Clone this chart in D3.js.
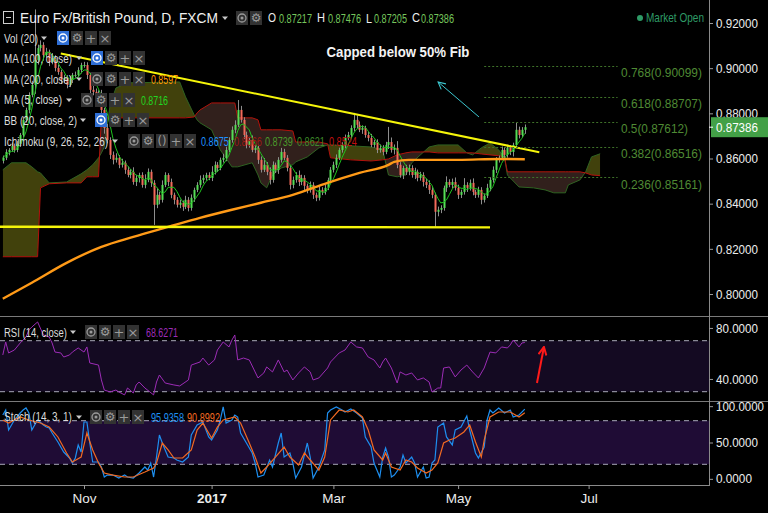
<!DOCTYPE html>
<html><head><meta charset="utf-8">
<script src="https://cdn.jsdelivr.net/npm/d3@7/dist/d3.min.js"></script>
<style>html,body{margin:0;padding:0;background:#000;overflow:hidden}svg{display:block}</style>
</head><body>
<svg id="chart" width="768" height="513"></svg>
<script>
// ---------------- DATA ----------------
const openFirst = 0.8590;
const closes = [0.8603,0.8629,0.8638,0.8656,0.8638,0.8665,0.8704,0.8771,0.8815,0.8881,
 0.8926,0.9036,0.9089,0.9103,0.9058,0.9072,0.9027,0.9045,0.9001,0.8983,
 0.8948,0.8957,0.8926,0.8948,0.8970,0.8970,0.8992,0.9014,0.9014,0.8970,
 0.8904,0.8895,0.8881,0.8890,0.8815,0.8735,0.8682,0.8616,0.8594,0.8603,
 0.8572,0.8581,0.8550,0.8527,0.8541,0.8496,0.8514,0.8527,0.8483,0.8505,
 0.8541,0.8492,0.8395,0.8439,0.8417,0.8483,0.8527,0.8496,0.8439,0.8417,
 0.8395,0.8404,0.8386,0.8417,0.8381,0.8426,0.8461,0.8483,0.8505,0.8514,
 0.8527,0.8514,0.8541,0.8572,0.8558,0.8594,0.8603,0.8638,0.8682,0.8727,
 0.8749,0.8815,0.8771,0.8704,0.8660,0.8682,0.8638,0.8647,0.8594,0.8550,
 0.8572,0.8541,0.8505,0.8572,0.8550,0.8594,0.8629,0.8603,0.8558,0.8483,
 0.8505,0.8527,0.8496,0.8514,0.8479,0.8461,0.8483,0.8439,0.8426,0.8461,
 0.8452,0.8470,0.8505,0.8550,0.8572,0.8603,0.8638,0.8660,0.8691,0.8704,
 0.8735,0.8771,0.8749,0.8727,0.8735,0.8704,0.8691,0.8660,0.8673,0.8638,
 0.8647,0.8629,0.8660,0.8673,0.8638,0.8647,0.8572,0.8527,0.8558,0.8541,
 0.8558,0.8527,0.8541,0.8514,0.8527,0.8496,0.8483,0.8461,0.8439,0.8364,
 0.8373,0.8381,0.8470,0.8496,0.8483,0.8496,0.8470,0.8439,0.8452,0.8483,
 0.8470,0.8492,0.8452,0.8439,0.8461,0.8417,0.8435,0.8470,0.8505,0.8550,
 0.8594,0.8603,0.8638,0.8616,0.8647,0.8629,0.8660,0.8727,0.8704,0.8727,
 0.87386];
const upWick = [10,12,8,15,10,12,9,14,10,12,
 18,224,15,20,12,18,10,22,12,15,
 10,14,12,18,9,15,12,10,14,12,
 10,20,15,12,14,10,18,12,15,20,
 12,18,10,15,12,20,14,10,12,25,
 15,10,12,30,14,20,12,8,15,10,
 12,14,10,18,12,15,10,12,20,14,
 10,12,25,15,12,10,18,14,12,15,
 20,44,18,12,15,14,20,12,10,15,
 30,12,20,15,10,12,18,14,12,10,
 15,12,20,14,12,10,15,12,10,18,
 12,15,10,12,14,15,10,12,15,14,
 12,31,20,15,12,10,14,18,10,12,
 15,12,14,67,20,15,30,12,10,14,
 15,12,18,10,14,12,15,20,12,10,
 14,12,10,25,12,15,20,14,10,30,
 12,15,20,10,14,12,10,18,12,15,
 12,10,15,12,14,12,10,31,14,12,
 12];
const dnWick = [12,10,15,8,12,10,14,10,12,15,
 10,40,20,15,25,12,18,10,15,12,
 18,12,15,10,14,12,10,15,12,18,
 20,15,12,18,20,25,15,18,20,12,
 15,12,18,10,15,12,18,20,12,15,
 10,18,89,15,20,12,10,18,15,20,
 12,15,18,10,15,12,18,10,12,15,
 12,10,14,12,18,10,12,15,10,12,
 15,10,12,18,15,12,10,14,18,12,
 10,15,20,12,14,18,12,10,15,20,
 15,12,18,14,20,15,12,18,15,12,
 14,12,10,15,12,14,10,12,15,10,
 12,15,14,10,18,12,15,10,12,14,
 12,15,10,18,12,20,15,12,18,14,
 15,12,18,15,12,20,14,18,15,67,
 20,15,12,18,10,15,12,18,14,12,
 18,12,15,14,12,20,12,10,15,12,
 14,12,10,15,12,14,20,12,15,10,
 18];

const ma200Idx = [0,10,22,34,45,57,68,79,89,100,112,123,133,135,140,157,171,180];
const ma200Val = [0.7979,0.8050,0.8138,0.8209,0.8253,0.8297,0.8337,0.8373,0.8404,0.8439,0.8492,0.8536,0.8572,0.8585,0.8594,0.8594,0.8598,0.8597];

const cloudIdx = [0,3,8,10,12,13,16,22,27,29,31,33,34,35,37,39,43,61,63,66,67,68,72,75,79,80,81,86,88,89,91,93,96,100,101,105,109,112,113,120,127,131,133,136,139,141,144,147,150,157,160,162,165,168,171,173,174,178,183,187,190,194,195,199,201,203,206];
const spanA = [0.8550,0.8581,0.8581,0.8563,0.8541,0.8536,0.8492,0.8496,0.8532,0.8550,0.8572,0.8603,0.8625,0.8651,0.8837,0.8912,0.8935,0.8939,0.8873,0.8793,0.8771,0.8758,0.8727,0.8638,0.8563,0.8563,0.8563,0.8581,0.8527,0.8492,0.8470,0.8527,0.8558,0.8572,0.8585,0.8607,0.8647,0.8660,0.8660,0.8656,0.8651,0.8638,0.8527,0.8519,0.8527,0.8581,0.8616,0.8651,0.8660,0.8660,0.8625,0.8616,0.8647,0.8669,0.8638,0.8603,0.8527,0.8474,0.8470,0.8461,0.8448,0.8448,0.8483,0.8505,0.8541,0.8607,0.8621];
const spanB = [0.8165,0.8165,0.8165,0.8165,0.8165,0.8470,0.8488,0.8492,0.8492,0.8519,0.8519,0.8519,0.8780,0.8780,0.8780,0.8780,0.8780,0.8780,0.8780,0.8784,0.8802,0.8815,0.8846,0.8846,0.8846,0.8846,0.8780,0.8780,0.8771,0.8727,0.8727,0.8727,0.8727,0.8722,0.8673,0.8673,0.8673,0.8665,0.8603,0.8594,0.8589,0.8594,0.8598,0.8616,0.8625,0.8629,0.8629,0.8629,0.8625,0.8625,0.8625,0.8625,0.8620,0.8616,0.8612,0.8607,0.8541,0.8541,0.8541,0.8541,0.8541,0.8541,0.8541,0.8541,0.8536,0.8527,0.8524];

const rsiIdx = [0,1,2,4,6,8,9,10,12,14,16,17,18,20,21,23,24,26,28,29,30,33,34,35,37,39,40,42,43,45,46,47,49,52,53,54,56,59,61,64,65,68,69,71,73,74,76,78,79,80,81,83,85,87,88,90,91,93,95,97,98,100,102,104,106,107,109,112,113,116,118,120,122,124,126,128,130,131,132,134,136,137,139,141,143,145,147,148,150,151,152,154,156,158,160,162,164,166,167,168,170,172,174,175,176,178,179,180];
const rsiVal = [58.8,69.0,60.4,62.7,68.2,72.9,78.4,80.7,84.7,74.5,72.9,68.2,61.1,60.4,57.2,58.8,61.1,64.3,61.1,65.1,52.5,50.9,39.2,31.3,29.8,31.3,29.8,27.5,32.9,29.0,35.3,37.6,32.9,27.5,37.6,43.1,36.8,35.3,34.5,39.2,50.9,53.3,56.4,50.9,54.9,62.7,69.0,65.1,70.5,74.5,54.9,56.4,54.9,45.5,40.8,44.7,49.4,45.5,54.9,45.5,47.0,39.2,44.7,49.4,45.5,39.2,40.8,48.6,53.3,60.4,62.7,69.0,65.1,64.3,57.2,54.9,48.6,53.3,56.4,48.6,36.8,45.5,43.1,44.7,39.2,40.8,37.6,29.8,32.9,32.9,48.6,49.4,41.6,47.0,50.9,45.5,40.8,48.6,54.9,61.1,60.4,65.1,64.3,66.7,70.5,65.1,68.2,68.6];

const kIdx = [0,1,2,4,6,7,8,9,10,12,14,15,16,17,19,21,23,24,25,26,27,28,29,30,31,33,34,35,36,38,40,42,43,45,47,49,50,51,52,53,54,55,57,59,60,62,64,65,67,69,71,72,74,75,76,77,79,80,81,82,84,86,87,88,90,92,93,95,96,97,99,100,101,103,105,106,107,109,111,112,113,115,117,118,120,122,124,125,127,128,130,131,132,133,134,135,137,138,139,141,142,143,145,146,147,148,149,150,152,153,155,156,158,160,161,163,164,166,167,168,169,171,173,175,176,178,180];
const kVal = [87.8,94.7,67.2,81.0,90.6,94.7,97.5,90.6,67.2,81.0,74.1,71.3,70.0,63.1,50.7,36.9,28.7,21.8,28.7,46.6,36.9,78.2,78.2,49.3,23.2,23.2,16.3,2.5,5.2,5.2,1.1,5.2,2.5,1.1,8.0,16.3,12.1,21.8,2.5,30.0,60.3,49.3,30.0,28.7,25.9,23.2,30.0,60.3,74.1,78.2,57.6,53.4,67.2,81.0,98.9,76.8,81.0,87.8,85.1,63.1,49.3,35.6,21.8,2.5,5.2,25.9,16.3,49.3,63.1,30.0,35.6,21.8,1.1,16.3,49.3,30.0,1.1,16.3,39.7,90.6,94.7,98.9,94.7,92.0,96.1,90.6,83.7,57.6,43.8,21.8,2.5,30.0,42.4,30.0,2.5,5.2,16.3,32.8,21.8,30.0,21.8,2.5,16.3,1.1,2.5,21.8,25.9,71.3,76.8,57.6,46.6,67.2,71.3,86.5,67.2,35.6,28.7,43.8,81.0,94.7,90.6,97.5,90.6,94.7,85.1,87.8,95.9];
const dIdx = [0,2,6,9,13,16,19,22,24,27,29,31,33,35,38,42,45,49,52,53,55,57,59,62,65,67,69,72,74,76,80,82,85,87,89,91,94,97,99,102,104,106,109,111,113,116,119,121,124,126,128,131,132,134,137,139,141,143,146,148,150,152,154,156,159,161,163,165,166,168,171,173,175,178,180];
const dVal = [81.0,76.8,85.1,81.0,76.8,71.3,57.6,35.6,23.2,30.0,63.1,39.7,21.8,8.0,5.2,2.5,2.5,9.4,14.9,21.8,49.3,39.7,28.7,28.7,39.7,67.2,76.8,56.2,71.3,81.0,85.1,76.8,49.3,30.0,8.0,16.3,30.0,43.8,30.0,19.0,35.6,25.9,12.1,30.0,81.0,94.7,92.0,94.7,85.1,67.2,39.7,25.9,35.6,16.3,12.1,25.9,23.2,14.9,8.0,12.1,21.8,49.3,53.4,56.2,64.5,74.1,50.7,30.0,53.4,85.1,92.0,92.0,92.0,85.1,90.9];

const priceTicks = [0.80,0.82,0.84,0.86,0.88,0.90,0.92];
const rsiTicks = [40,80];
const stochTicks = [0,50,100];
const timeTickIdx = [28,72,114,157,202];
const timeTickLabels = ["Nov","2017","Mar","May","Jul"];

const fibRatios = ["0.768","0.618","0.5","0.382","0.236"];
const fibPrices = [0.90099,0.88707,0.87612,0.86516,0.85161];
const fibIdx = [166,212];
const trendIdx = [20,185];
const trendVal = [0.9065,0.8628];
const supportIdx = [-1,168];
const supportVal = [0.8298,0.8295];
const noteArrowIdx = [164.2,150.1];
const noteArrowVal = [0.8784,0.8939];
const rsiArrowIdx = [184.2,186.6];
const rsiArrowVal = [36.8,65.1];
const lastPrice = 0.87386;

// ---------------- SETUP ----------------
const FONT = '"Liberation Sans", Arial, sans-serif';
const svg = d3.select("#chart");
svg.append("rect").attr("width",768).attr("height",513).attr("fill","#000");
const W = 709, MAIN_B = 316;
const x  = d3.scaleLinear().domain([0,180]).range([2.8,524.8]);
const y  = d3.scaleLinear().domain([0.80,0.92]).range([294,23]);
const yR = d3.scaleLinear().domain([30,70]).range([391.7,340.7]);
const yS = d3.scaleLinear().domain([20,80]).range([464.3,420.7]);

const defs = svg.append("defs");
defs.append("clipPath").attr("id","clipMain").append("rect").attr("x",0).attr("y",0).attr("width",W).attr("height",MAIN_B);
defs.append("clipPath").attr("id","clipRsi").append("rect").attr("x",0).attr("y",317).attr("width",W).attr("height",83);
defs.append("clipPath").attr("id","clipSto").append("rect").attr("x",0).attr("y",402).attr("width",W).attr("height",83);
const mk = defs.append("marker").attr("id","headC").attr("viewBox","0 0 10 10").attr("refX",9).attr("refY",5)
  .attr("markerWidth",9).attr("markerHeight",9).attr("orient","auto").attr("markerUnits","userSpaceOnUse");
mk.append("path").attr("d","M1,1 L9,5 L1,9").attr("fill","none").attr("stroke","#3cc6cf").attr("stroke-width",1.2);
const mk2 = defs.append("marker").attr("id","headR").attr("viewBox","0 0 10 10").attr("refX",9).attr("refY",5)
  .attr("markerWidth",10).attr("markerHeight",10).attr("orient","auto").attr("markerUnits","userSpaceOnUse");
mk2.append("path").attr("d","M1,1 L9,5 L1,9").attr("fill","none").attr("stroke","#ff1a1a").attr("stroke-width",2);

// text helper: natural glyphs, squeezed horizontally with a transform to the width seen in the reference
function T(x0,y0,s,o={}){
  const t = svg.append("text").attr("x",0).attr("y",0).text(s)
    .attr("font-family",o.f||FONT).attr("font-size",o.size||12.5).attr("fill",o.c||"#dcdcdc")
    .attr("font-weight",o.w||"normal").attr("dominant-baseline","central");
  if(o.anchor) t.attr("text-anchor",o.anchor);
  let sx = 1;
  if(o.len){ const w = t.node().getComputedTextLength(); if(w>0) sx = o.len/w; }
  t.attr("transform",`translate(${x0},${y0}) scale(${sx},1)`);
  return t;
}

// ---------------- MAIN PANEL ----------------
const main = svg.append("g").attr("clip-path","url(#clipMain)");

// Ichimoku cloud
const cloud = cloudIdx.map((d,i)=>({i:d,a:spanA[i],b:spanB[i]}));
const areaAB = d3.area().x(d=>x(d.i)).y0(d=>y(d.b)).y1(d=>y(d.a));
defs.append("clipPath").attr("id","cAbove").append("path").attr("d",d3.area().x(d=>x(d.i)).y0(0).y1(d=>y(d.b))(cloud));
defs.append("clipPath").attr("id","cBelow").append("path").attr("d",d3.area().x(d=>x(d.i)).y0(d=>y(d.b)).y1(MAIN_B)(cloud));
main.append("g").attr("clip-path","url(#cAbove)").append("path").attr("d",areaAB(cloud)).attr("fill","#41410c");
main.append("g").attr("clip-path","url(#cBelow)").append("path").attr("d",areaAB(cloud)).attr("fill","#31201c");
main.append("path").attr("d",d3.line().x(d=>x(d.i)).y(d=>y(d.a))(cloud)).attr("fill","none").attr("stroke","#2f6322").attr("stroke-width",1);
main.append("path").attr("d",d3.line().x(d=>x(d.i)).y(d=>y(d.b))(cloud)).attr("fill","none").attr("stroke","#b3120c").attr("stroke-width",1);

// candles
const bars = closes.map((c,i)=>{
  const o = i ? closes[i-1] : openFirst;
  return {i,o,c,h:Math.max(o,c)+upWick[i]/1e4,l:Math.min(o,c)-dnWick[i]/1e4};
});
const cg = main.append("g");
cg.selectAll("line.w").data(bars).join("line").attr("class","w")
  .attr("x1",d=>Math.round(x(d.i))+0.5).attr("x2",d=>Math.round(x(d.i))+0.5)
  .attr("y1",d=>y(d.h)).attr("y2",d=>y(d.l)).attr("stroke","#8d8d8d").attr("stroke-width",1);
cg.selectAll("rect.b").data(bars).join("rect").attr("class","b")
  .attr("x",d=>Math.round(x(d.i))-0.5).attr("width",2)
  .attr("y",d=>y(Math.max(d.o,d.c))).attr("height",d=>Math.max(1,Math.abs(y(d.o)-y(d.c))))
  .attr("fill",d=>d.c>=d.o?"#55de55":"#f26a5a");

// MA5 (5-bar average of the closes above)
const ma5 = closes.map((c,i)=>({i,v:d3.mean(closes.slice(Math.max(0,i-4),i+1))}));
main.append("path").attr("d",d3.line().x(d=>x(d.i)).y(d=>y(d.v))(ma5)).attr("fill","none").attr("stroke","#1ec41e").attr("stroke-width",1);

// MA200
const ma200 = ma200Idx.map((d,i)=>({i:d,v:ma200Val[i]}));
main.append("path").attr("d",d3.line().curve(d3.curveMonotoneX).x(d=>x(d.i)).y(d=>y(d.v))(ma200))
  .attr("fill","none").attr("stroke","#ff9a17").attr("stroke-width",2.4);

// trend lines
const tl = d3.line().x(d=>x(d[0])).y(d=>y(d[1]));
main.append("path").attr("d",tl(trendIdx.map((d,i)=>[d,trendVal[i]]))).attr("stroke","#f5f50a").attr("stroke-width",2).attr("fill","none");
main.append("path").attr("d",tl(supportIdx.map((d,i)=>[d,supportVal[i]]))).attr("stroke","#f5f50a").attr("stroke-width",2.4).attr("fill","none");

// fib levels
fibPrices.forEach((p,k)=>{
  main.append("line").attr("x1",x(fibIdx[0])).attr("x2",x(fibIdx[1])).attr("y1",Math.round(y(p))+0.5).attr("y2",Math.round(y(p))+0.5)
    .attr("stroke","#3f7229").attr("stroke-width",1).attr("stroke-dasharray","2,2");
  T(621,y(p)+7,`${fibRatios[k]}(${p.toFixed(5)})`,{size:12.5,c:"#4f8a34",len:fibRatios[k]==="0.5"?67:81});
});

// annotation
main.append("line").attr("x1",x(noteArrowIdx[0])).attr("y1",y(noteArrowVal[0])).attr("x2",x(noteArrowIdx[1])).attr("y2",y(noteArrowVal[1]))
  .attr("stroke","#3cc6cf").attr("stroke-width",1).attr("marker-end","url(#headC)");
T(398,52,"Capped below 50% Fib",{size:15.5,w:"bold",c:"#f4f4f4",anchor:"middle",len:143});

// ---------------- RSI PANEL ----------------
const rg = svg.append("g").attr("clip-path","url(#clipRsi)");
rg.append("rect").attr("x",0).attr("width",W).attr("y",yR(70)).attr("height",yR(30)-yR(70)).attr("fill","#140a22");
[70,30].forEach(v=>rg.append("line").attr("x1",0).attr("x2",W).attr("y1",yR(v)).attr("y2",yR(v)).attr("stroke","#a8a8b8").attr("stroke-dasharray","5,4"));
const rsi = rsiIdx.map((d,i)=>({i:d,v:rsiVal[i]}));
rg.append("path").attr("d",d3.line().x(d=>x(d.i)).y(d=>yR(d.v))(rsi)).attr("fill","none").attr("stroke","#9c2cb6").attr("stroke-width",1);
svg.append("line").attr("x1",x(rsiArrowIdx[0])).attr("y1",yR(rsiArrowVal[0])).attr("x2",x(rsiArrowIdx[1])).attr("y2",yR(rsiArrowVal[1]))
  .attr("stroke","#ff1a1a").attr("stroke-width",2).attr("marker-end","url(#headR)");

// ---------------- STOCH PANEL ----------------
const sg = svg.append("g").attr("clip-path","url(#clipSto)");
sg.append("rect").attr("x",0).attr("width",W).attr("y",yS(80)).attr("height",yS(20)-yS(80)).attr("fill","#1f0c35");
[80,20].forEach(v=>sg.append("line").attr("x1",0).attr("x2",W).attr("y1",yS(v)).attr("y2",yS(v)).attr("stroke","#a8a8b8").attr("stroke-dasharray","5,4"));
const kd = dIdx.map((d,i)=>({i:d,v:dVal[i]}));
const kk = kIdx.map((d,i)=>({i:d,v:kVal[i]}));
sg.append("path").attr("d",d3.line().x(d=>x(d.i)).y(d=>yS(d.v))(kk)).attr("fill","none").attr("stroke","#1e8ff0").attr("stroke-width",1.2);
sg.append("path").attr("d",d3.line().x(d=>x(d.i)).y(d=>yS(d.v))(kd)).attr("fill","none").attr("stroke","#f26a22").attr("stroke-width",1.2);

// ---------------- FRAME & AXES ----------------
svg.append("line").attr("x1",0).attr("x2",768).attr("y1",316.5).attr("y2",316.5).attr("stroke","#7a7a7a");
svg.append("line").attr("x1",0).attr("x2",768).attr("y1",401.5).attr("y2",401.5).attr("stroke","#7a7a7a");
svg.append("line").attr("x1",0).attr("x2",W).attr("y1",485.5).attr("y2",485.5).attr("stroke","#8a8a8a");
svg.append("line").attr("x1",W+0.5).attr("x2",W+0.5).attr("y1",0).attr("y2",486).attr("stroke","#8a8a8a");

function styleAxis(g,lens){
  g.select(".domain").remove();
  g.selectAll(".tick line").attr("stroke","#9a9a9a");
  g.selectAll(".tick text").attr("fill","#ececec").attr("font-family",FONT).attr("font-size",13)
    .each(function(){
      const t = d3.select(this);
      const x0 = +t.attr("x");
      const w = this.getComputedTextLength();
      const sx = w>0 ? lens(this.textContent)/w : 1;
      t.attr("x",0).attr("transform",`translate(${x0},0) scale(${sx},1)`);
    });
}
const lenFor = s => s.length===6?36:(s.length===7?42:48);
styleAxis(svg.append("g").attr("transform",`translate(${W},0)`)
  .call(d3.axisRight(y).tickValues(priceTicks).tickFormat(d3.format(".5f")).tickSize(4).tickPadding(3)), lenFor);
styleAxis(svg.append("g").attr("transform",`translate(${W},0)`)
  .call(d3.axisRight(yR).tickValues(rsiTicks).tickFormat(d3.format(".4f")).tickSize(4).tickPadding(3)), lenFor);
styleAxis(svg.append("g").attr("transform",`translate(${W},0)`)
  .call(d3.axisRight(yS).tickValues(stochTicks).tickFormat(d3.format(".4f")).tickSize(4).tickPadding(3)), lenFor);

const gx = svg.append("g").attr("transform","translate(0,485)")
  .call(d3.axisBottom(x).tickValues(timeTickIdx).tickFormat((d,i)=>timeTickLabels[i]).tickSize(4).tickPadding(4));
gx.select(".domain").remove();
gx.selectAll(".tick line").attr("stroke","#9a9a9a");
gx.selectAll(".tick text").attr("fill","#ececec").attr("font-family",FONT).attr("font-size",13.5)
  .attr("font-weight",(d,i)=>timeTickLabels[i]==="2017"?"bold":"normal");

// current price tag
svg.append("rect").attr("x",W+2).attr("y",y(lastPrice)-10).attr("width",768-W-2).attr("height",20).attr("fill","#43a047");
svg.append("line").attr("x1",W).attr("x2",W+4).attr("y1",y(lastPrice)).attr("y2",y(lastPrice)).attr("stroke","#fff");
T(716,y(lastPrice)+1,lastPrice.toFixed(5),{size:13,c:"#fff",len:42});

// ---------------- LEGEND ----------------
function icon(x0,yc,kind,blue){
  svg.append("rect").attr("x",x0).attr("y",yc-7).attr("width",12).attr("height",14).attr("fill",blue?"#2f6fd6":"#323232");
  const c = blue?"#ffffff":"#9a9a9a";
  if(kind==="eye"){
    svg.append("circle").attr("cx",x0+6).attr("cy",yc).attr("r",4).attr("fill","none").attr("stroke",c).attr("stroke-width",1.3);
    svg.append("circle").attr("cx",x0+6).attr("cy",yc).attr("r",1.5).attr("fill",c);
  } else {
    const sym = {gear:"⚙",plus:"+",x:"×",par:"()"}[kind];
    T(x0+6,yc,sym,{anchor:"middle",c:c,size:kind==="gear"?12:13,f:'"DejaVu Sans", sans-serif',len:kind==="par"?9:null});
  }
}
function caret(x0,yc){ svg.append("path").attr("d",`M${x0-3},${yc-1.5} L${x0+3},${yc-1.5} L${x0},${yc+2}`).attr("fill","#c8c8c8"); }
function row(yc,label,len,cx,ix,kinds,firstBlue){
  T(4,yc,label,{len:len,size:13});
  caret(cx,yc);
  kinds.forEach((k,j)=>icon(ix+j*14,yc,k,firstBlue&&j===0));
}

// title row
svg.append("rect").attr("x",3.5).attr("y",11.5).attr("width",10).attr("height",12).attr("fill","none").attr("stroke","#cfcfcf");
svg.append("line").attr("x1",6).attr("x2",11).attr("y1",17.5).attr("y2",17.5).attr("stroke","#cfcfcf");
T(20,18,"Euro Fx/British Pound, D, FXCM",{size:14.5,c:"#f0f0f0",len:198});
caret(225,18);
icon(236,18,"eye",false); icon(250,18,"gear",false);
const ohlc = [["O",268,"0.87217",279],["H",317,"0.87476",328],["L",366,"0.87205",374],["C",412,"0.87386",421]];
ohlc.forEach(r=>{ T(r[1],18,r[0],{size:12.5,c:"#f0f0f0",len:r[0]==="L"?6:8}); T(r[3],18,r[2],{size:13,c:"#76c65c",len:33}); });
svg.append("circle").attr("cx",640).attr("cy",18).attr("r",3).attr("fill","#2e9a66");
T(646,18,"Market Open",{size:12.5,c:"#2e9a66",len:58});

row(38,"Vol (20)",34,44,57,["eye","gear","plus","x"],true);
row(58,"MA (100, close)",68,79,91,["eye","gear","plus","x"],true);
row(79,"MA (200, close)",68,79,91,["eye","gear","plus","x"],false);
T(151,79,"0.8597",{c:"#ff9800",len:27});
row(100,"MA (5, close)",58,69,81,["eye","gear","plus","x"],false);
T(141,100,"0.8716",{c:"#22d622",len:27});
row(120,"BB (20, close, 2)",73,83,95,["eye","gear","plus","x"],true);
row(141,"Ichimoku (9, 26, 52, 26)",104,115,128,["eye","gear","par","plus","x"],false);
[["0.8675",201,"#1e90ff"],["0.8566",234,"#9a1a14"],["0.8739",265,"#4a9a2a"],["0.8621",297,"#3e8a2a"],["0.8524",329,"#c01010"]]
  .forEach(v=>T(v[1],141,v[0],{c:v[2],len:28}));
row(332,"RSI (14, close)",63,73,85,["eye","gear","plus","x"],false);
T(146,332,"68.6271",{c:"#9c2cb6",len:32});
row(417,"Stoch (14, 3, 1)",68,79,90,["eye","gear","plus","x"],false);
T(151,417,"95.9358",{c:"#1e8ff0",len:33});
T(187,417,"90.8992",{c:"#f26a22",len:33});
</script>
</body></html>
